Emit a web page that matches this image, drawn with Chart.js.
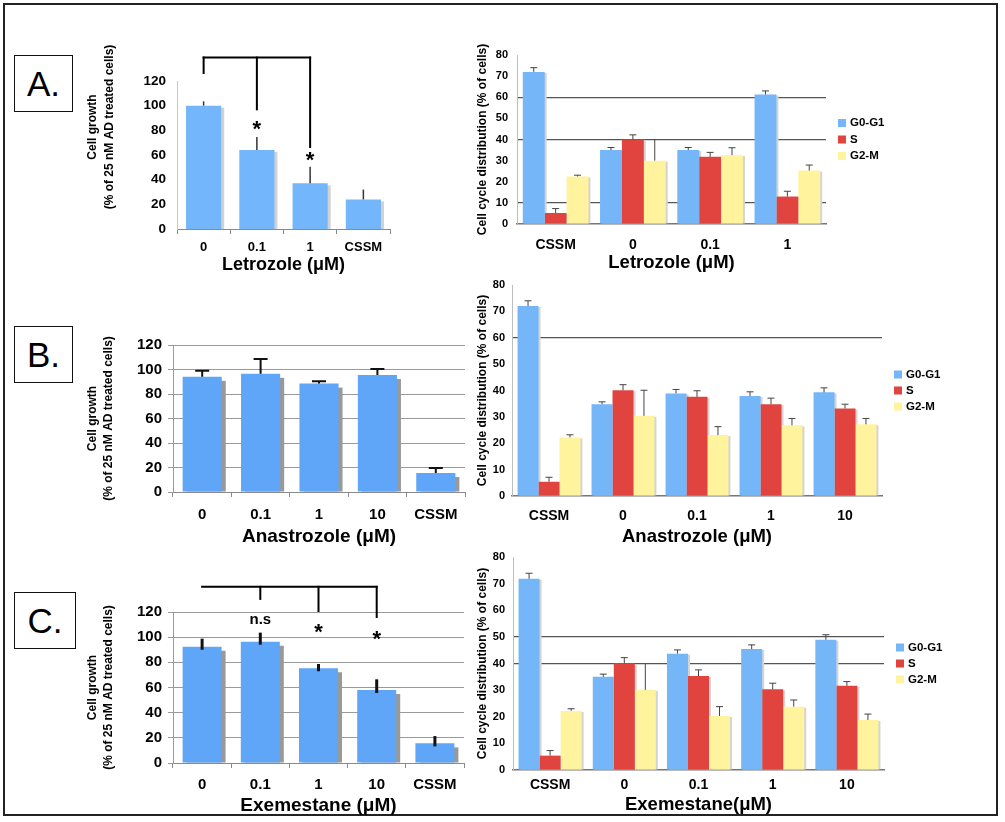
<!DOCTYPE html>
<html>
<head>
<meta charset="utf-8">
<script src="https://cdn.jsdelivr.net/npm/chart.js@4/dist/chart.umd.min.js"></script>
<style>
  html, body { margin: 0; padding: 0; background: #fff; }
  body { position: relative; width: 1005px; height: 822px; overflow: hidden; font-family: "Liberation Sans", Arial, sans-serif; }
  #frame { position: absolute; left: 3px; top: 3px; width: 995px; height: 813px; box-sizing: border-box; border: 2px solid #222; }
  .panel { position: absolute; box-sizing: border-box; border: 1.6px solid #111; display: flex; align-items: center; justify-content: center; font-size: 35px; color: #000; }
  canvas { position: absolute; }
</style>
</head>
<body>
<div id="frame"></div>
<div class="panel" style="left:14px;top:55px;width:59px;height:57px;">A.</div>
<div class="panel" style="left:14px;top:326px;width:59px;height:57px;">B.</div>
<div class="panel" style="left:14px;top:592px;width:62px;height:57px;">C.</div>
<script>
// ---------------- DATA ----------------
// Cell growth (% of 25 nM AD treated cells)
const growthCatsA = ['0', '0.1', '1', 'CSSM'];
const growthA     = [100, 64, 37, 24];
const growthErrA  = [3.5, 10.5, 13.5, 8];

const growthCatsB = ['0', '0.1', '1', '10', 'CSSM'];
const growthB     = [94, 96.5, 88.5, 95.5, 15.5];
const growthErrB  = [5, 12, 2, 5, 4];

const growthCatsC = ['0', '0.1', '1', '10', 'CSSM'];
const growthC     = [92.4, 96.4, 75.3, 58, 15.6];
const growthErrC  = [6.4, 7.2, 3.4, 8.5, 5.8];

// Cell cycle distribution (% of cells)
const phaseLabels = ['G0-G1', 'S', 'G2-M'];

const cycleCatsA = ['CSSM', '0', '0.1', '1'];
const g0g1A    = [72, 35, 35, 61.3];
const g0g1ErrA = [2, 1.2, 1.2, 1.7];
const sA       = [5.2, 40, 31.8, 13];
const sErrA    = [2.1, 2.2, 2.1, 2.5];
const g2mA     = [22.5, 30, 32.6, 25.3];
const g2mErrA  = [0.6, 10, 3.5, 2.6];

const cycleCatsB = ['CSSM', '0', '0.1', '1', '10'];
const g0g1B    = [72, 34.8, 38.9, 37.9, 39.3];
const g0g1ErrB = [2, 0.9, 1.5, 1.6, 1.7];
const sB       = [5.4, 40.1, 37.6, 34.8, 33.2];
const sErrB    = [1.7, 2.1, 2.3, 2.3, 1.6];
const g2mB     = [22.2, 30.4, 23.1, 26.8, 27.2];
const g2mErrB  = [1, 9.7, 3.2, 2.6, 2.2];

const cycleCatsC = ['CSSM', '0', '0.1', '1', '10'];
const g0g1C    = [71.8, 35, 43.7, 45.4, 48.9];
const g0g1ErrC = [2.1, 1, 1.4, 1.6, 1.9];
const sC       = [5.4, 40.1, 35.3, 30.3, 31.6];
const sErrC    = [1.9, 2.1, 2.3, 2.3, 1.6];
const g2mC     = [22.2, 30.1, 20.3, 23.8, 18.8];
const g2mErrC  = [0.8, 9.7, 3.5, 2.5, 2.2];

// tick values
const growthTicks = { min: 0, max: 120, step: 20 };
const cycleTicks  = { min: 0, max: 80, step: 10 };
const cycleLinesA = [10, 40, 60];
const cycleLinesB = [60];
const cycleLinesC = [40, 50];

// ---------------- STYLE ----------------
const FONT = '"Liberation Sans", Arial, sans-serif';
Chart.defaults.font.family = FONT;
Chart.defaults.color = '#000';

const COL_BLUE_A = '#73B6FC';
const COL_BLUE_L = '#5FA6F8';
const COL_G1 = '#74B6F8';
const COL_S  = '#E1433F';
const COL_G2 = '#FFF39E';

// ---------------- PLUGINS ----------------
function shadowPlugin(o) {
  return {
    id: 'barShadow',
    beforeDatasetsDraw(chart) {
      const ctx = chart.ctx;
      ctx.save();
      ctx.fillStyle = o.color;
      chart.data.datasets.forEach((ds, di) => {
        chart.getDatasetMeta(di).data.forEach(el => {
          const p = el.getProps(['x', 'y', 'base', 'width'], true);
          ctx.fillRect(p.x - p.width / 2 + o.dx, p.y + o.dy, p.width, p.base - p.y - o.dy);
        });
      });
      ctx.restore();
    }
  };
}

function errPlugin(o) {
  return {
    id: 'errBars',
    afterDatasetsDraw(chart) {
      const ctx = chart.ctx, ys = chart.scales.y;
      ctx.save();
      ctx.strokeStyle = o.color;
      ctx.lineWidth = o.width;
      chart.data.datasets.forEach((ds, di) => {
        const errs = o.errors[di];
        const capless = (o.capless && o.capless[di]) || [];
        chart.getDatasetMeta(di).data.forEach((el, i) => {
          const p = el.getProps(['x', 'y'], true);
          const top = ys.getPixelForValue(ds.data[i] + errs[i]);
          ctx.beginPath();
          ctx.moveTo(p.x, p.y + (o.inset || 0));
          ctx.lineTo(p.x, top);
          const cap = capless.includes(i) ? 0 : o.cap;
          if (cap) { ctx.moveTo(p.x - cap / 2, top); ctx.lineTo(p.x + cap / 2, top); }
          ctx.stroke();
        });
      });
      ctx.restore();
    }
  };
}

function notesPlugin(o) {
  return {
    id: 'notes',
    afterDraw(chart) {
      const ctx = chart.ctx, xs = chart.scales.x, ys = chart.scales.y;
      ctx.save();
      ctx.strokeStyle = '#000';
      ctx.lineWidth = o.lineWidth;
      ctx.lineCap = 'square';
      o.lines.forEach(s => {
        ctx.beginPath();
        ctx.moveTo(xs.getPixelForValue(s[0]), ys.getPixelForValue(s[1]));
        ctx.lineTo(xs.getPixelForValue(s[2]), ys.getPixelForValue(s[3]));
        ctx.stroke();
      });
      ctx.fillStyle = '#000';
      ctx.textAlign = 'center';
      ctx.textBaseline = 'middle';
      o.texts.forEach(t => {
        ctx.font = t.font;
        ctx.fillText(t.text, xs.getPixelForValue(t.cat), ys.getPixelForValue(t.v));
      });
      ctx.restore();
    }
  };
}

function sideLegendPlugin(o) {
  return {
    id: 'sideLegend',
    afterDraw(chart) {
      const ctx = chart.ctx, a = chart.chartArea;
      const n = chart.data.datasets.length;
      const cy = (a.top + a.bottom) / 2;
      ctx.save();
      ctx.font = 'bold 11.5px ' + FONT;
      ctx.textBaseline = 'middle';
      ctx.textAlign = 'left';
      chart.data.datasets.forEach((ds, i) => {
        const y = cy + (i - (n - 1) / 2) * o.dy;
        ctx.fillStyle = ds.backgroundColor;
        ctx.fillRect(a.right + o.dx, y - o.box / 2, o.box, o.box);
        ctx.fillStyle = '#000';
        ctx.fillText(ds.label, a.right + o.dx + o.box + 4, y);
      });
      ctx.restore();
    }
  };
}

function vTitlePlugin(o, box) {
  return {
    id: 'vTitle',
    afterDraw(chart) {
      const ctx = chart.ctx;
      ctx.save();
      ctx.font = o.font;
      ctx.fillStyle = '#000';
      ctx.textAlign = 'center';
      ctx.textBaseline = 'middle';
      o.lines.forEach((ln, i) => {
        ctx.save();
        ctx.translate(o.x - box.x + i * o.lh, o.y - box.y);
        ctx.rotate(-Math.PI / 2);
        ctx.fillText(ln, 0, 0);
        ctx.restore();
      });
      ctx.restore();
    }
  };
}

// ---------------- BUILDER ----------------
function makeChart(c) {
  const B = c.box, A = c.area;
  const cv = document.createElement('canvas');
  cv.width = B.w; cv.height = B.h;
  cv.style.left = B.x + 'px';
  cv.style.top = B.y + 'px';
  document.body.appendChild(cv);
  const plugins = [];
  if (c.shadow) plugins.push(shadowPlugin(c.shadow));
  if (c.err) plugins.push(errPlugin(c.err));
  if (c.notes) plugins.push(notesPlugin(c.notes));
  if (c.legend) plugins.push(sideLegendPlugin(c.legend));
  if (c.vtitle) plugins.push(vTitlePlugin(c.vtitle, B));
  const x = Object.assign({}, c.x, { afterFit: s => { s.height = B.y + B.h - A.B; } });
  const y = Object.assign({}, c.y, { afterFit: s => { s.width = A.L - B.x; } });
  return new Chart(cv, {
    type: 'bar',
    data: { labels: c.labels, datasets: c.datasets },
    options: {
      responsive: false,
      animation: false,
      devicePixelRatio: 1,
      layout: { padding: { top: A.T - B.y, right: B.x + B.w - A.R, left: 0, bottom: 0 } },
      plugins: { legend: { display: false }, tooltip: { enabled: false } },
      scales: { x, y }
    },
    plugins
  });
}

function growthY(opts) {
  return {
    min: growthTicks.min, max: growthTicks.max,
    ticks: { stepSize: growthTicks.step, padding: opts.tickPad, font: { size: opts.tickSize, weight: 'bold' }, color: '#000' },
    grid: opts.grid,
    border: { color: opts.borderColor, width: 1 },
    title: opts.title
  };
}

function growthX(opts) {
  return {
    ticks: { padding: opts.tickPad, font: { size: opts.tickSize, weight: 'bold' }, color: '#000' },
    grid: { offset: true, drawOnChartArea: false, drawTicks: true, tickLength: 5, color: '#8a8a8a' },
    border: { color: '#8a8a8a', width: 1 },
    title: { display: true, text: opts.title, font: { size: opts.titleSize, weight: 'bold' }, color: '#000', padding: { top: 0, bottom: opts.titlePad } }
  };
}

function cycleY(lines, tickPad) {
  return {
    min: cycleTicks.min, max: cycleTicks.max,
    ticks: { stepSize: cycleTicks.step, padding: tickPad, font: { size: 11, weight: 'bold' }, color: '#000' },
    grid: { drawTicks: false, lineWidth: 1.2, color: ctx => (ctx.tick && lines.includes(ctx.tick.value)) ? '#555' : 'rgba(0,0,0,0)' },
    border: { color: '#bdbdbd', width: 1 },
    title: { display: true, text: 'Cell cycle distribution (% of cells)', font: { size: 12, weight: 'bold', lineHeight: 1.2 }, color: '#000', padding: { top: 35.8, bottom: 0 } }
  };
}

function cycleX(title, tickPad, titlePad) {
  return {
    ticks: { padding: tickPad, font: { size: 14, weight: 'bold' }, color: '#000' },
    grid: { display: false, drawTicks: false },
    border: { color: '#777', width: 1.5 },
    title: { display: true, text: title, font: { size: 18.5, weight: 'bold' }, color: '#000', padding: { top: 0, bottom: titlePad } }
  };
}

function cycleSets(g1, s, g2) {
  const common = { barPercentage: 1, categoryPercentage: 0.85, borderWidth: 0 };
  return [
    Object.assign({ label: phaseLabels[0], data: g1, backgroundColor: COL_G1 }, common),
    Object.assign({ label: phaseLabels[1], data: s, backgroundColor: COL_S }, common),
    Object.assign({ label: phaseLabels[2], data: g2, backgroundColor: COL_G2 }, common)
  ];
}

const growthTitle = ['Cell growth', '(% of 25 nM AD treated cells)'];
const growthTitleOpt = { display: true, text: growthTitle, font: { size: 12, weight: 'bold', lineHeight: 1.3 }, color: '#000', padding: { top: 25.2, bottom: 0 } };

// ---------------- A left ----------------
makeChart({
  box: { x: 60, y: 20, w: 345, h: 270 },
  area: { L: 177, T: 81, R: 390, B: 229 },
  labels: growthCatsA,
  datasets: [{ label: 'Cell growth', data: growthA, backgroundColor: COL_BLUE_A, barPercentage: 0.66, categoryPercentage: 1, borderWidth: 0 }],
  x: growthX({ tickPad: 6, tickSize: 13, title: 'Letrozole (\u03BCM)', titleSize: 18, titlePad: 14.2 }),
  y: growthY({ tickPad: 11, tickSize: 13.5, grid: { display: false, drawTicks: false }, borderColor: '#c8c8c8', title: { display: false } }),
  shadow: { color: '#d2d2d2', dx: 3, dy: 2 },
  err: { color: '#333', width: 1.5, cap: 0, errors: [growthErrA] },
  notes: {
    lineWidth: 2,
    lines: [[0, 139, 2, 139], [0, 139, 0, 126.5], [1, 139, 1, 97], [2, 139, 2, 66.5]],
    texts: [{ text: '*', cat: 1, v: 80, font: 'bold 22px ' + FONT }, { text: '*', cat: 2, v: 55.5, font: 'bold 22px ' + FONT }]
  },
  vtitle: { lines: growthTitle, x: 93, y: 127, lh: 17, font: 'bold 12px ' + FONT }
});

// ---------------- A right ----------------
makeChart({
  box: { x: 440, y: 20, w: 555, h: 270 },
  area: { L: 517, T: 55, R: 826, B: 224 },
  labels: cycleCatsA,
  datasets: cycleSets(g0g1A, sA, g2mA),
  x: cycleX('Letrozole (\u03BCM)', 13, 16.2),
  y: cycleY(cycleLinesA, 9),
  shadow: { color: '#d4d4d4', dx: 2, dy: 1 },
  err: { color: '#444', width: 1, cap: 7, errors: [g0g1ErrA, sErrA, g2mErrA], capless: [[], [], [1]] },
  legend: { dx: 12, box: 8, dy: 16.5 }
});

// ---------------- B left ----------------
makeChart({
  box: { x: 60, y: 300, w: 415, h: 260 },
  area: { L: 173, T: 345, R: 465, B: 492 },
  labels: growthCatsB,
  datasets: [{ label: 'Cell growth', data: growthB, backgroundColor: COL_BLUE_L, barPercentage: 0.67, categoryPercentage: 1, borderWidth: 0 }],
  x: growthX({ tickPad: 9, tickSize: 15, title: 'Anastrozole (\u03BCM)', titleSize: 19, titlePad: 11.6 }),
  y: growthY({ tickPad: 6, tickSize: 15, grid: { color: '#9a9a9a', drawTicks: true, tickLength: 5 }, borderColor: '#9a9a9a', title: growthTitleOpt }),
  shadow: { color: '#999', dx: 4, dy: 4 },
  err: { color: '#111', width: 2, cap: 14, errors: [growthErrB] }
});

// ---------------- B right ----------------
makeChart({
  box: { x: 440, y: 270, w: 555, h: 290 },
  area: { L: 512, T: 285, R: 882, B: 496 },
  labels: cycleCatsB,
  datasets: cycleSets(g0g1B, sB, g2mB),
  x: cycleX('Anastrozole (\u03BCM)', 11.6, 11.6),
  y: cycleY(cycleLinesB, 7),
  shadow: { color: '#d4d4d4', dx: 2, dy: 1 },
  err: { color: '#444', width: 1, cap: 7, errors: [g0g1ErrB, sErrB, g2mErrB] },
  legend: { dx: 12, box: 8, dy: 16 }
});

// ---------------- C left ----------------
makeChart({
  box: { x: 60, y: 560, w: 415, h: 262 },
  area: { L: 173, T: 612, R: 464, B: 763 },
  labels: growthCatsC,
  datasets: [{ label: 'Cell growth', data: growthC, backgroundColor: COL_BLUE_L, barPercentage: 0.67, categoryPercentage: 1, borderWidth: 0 }],
  x: growthX({ tickPad: 8, tickSize: 15, title: 'Exemestane (\u03BCM)', titleSize: 19, titlePad: 4.6 }),
  y: growthY({ tickPad: 6, tickSize: 15, grid: { color: '#9a9a9a', drawTicks: true, tickLength: 5 }, borderColor: '#9a9a9a', title: growthTitleOpt }),
  shadow: { color: '#999', dx: 4, dy: 4 },
  err: { color: '#111', width: 3, cap: 0, inset: 3, errors: [growthErrC] },
  notes: {
    lineWidth: 2,
    lines: [[0, 140, 3, 140], [1, 140, 1, 130.4], [2, 140, 2, 120.8], [3, 140, 3, 116]],
    texts: [
      { text: 'n.s', cat: 1, v: 113.5, font: 'bold 15px ' + FONT },
      { text: '*', cat: 2, v: 103.5, font: 'bold 22px ' + FONT },
      { text: '*', cat: 3, v: 98, font: 'bold 22px ' + FONT }
    ]
  }
});

// ---------------- C right ----------------
makeChart({
  box: { x: 440, y: 540, w: 555, h: 282 },
  area: { L: 513, T: 557, R: 884, B: 770 },
  labels: cycleCatsC,
  datasets: cycleSets(g0g1C, sC, g2mC),
  x: cycleX('Exemestane(\u03BCM)', 6.3, 5.6),
  y: cycleY(cycleLinesC, 8),
  shadow: { color: '#d4d4d4', dx: 2, dy: 1 },
  err: { color: '#444', width: 1, cap: 7, errors: [g0g1ErrC, sErrC, g2mErrC], capless: [[], [], [1]] },
  legend: { dx: 12, box: 8, dy: 16 }
});
</script>
</body>
</html>
